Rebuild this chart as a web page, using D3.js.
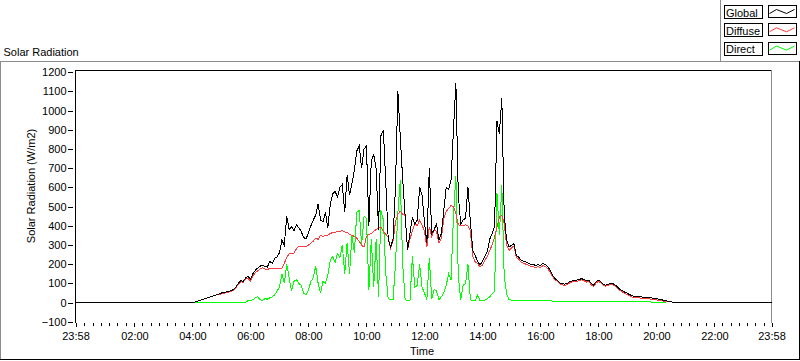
<!DOCTYPE html>
<html><head><meta charset="utf-8">
<script src="https://cdn.jsdelivr.net/npm/d3@7"></script>
<style>
body{margin:0;background:#fff;}
svg{display:block;font-family:"Liberation Sans",Arial,sans-serif;font-size:11px;}
</style>
</head><body>
<svg id="chart" width="800" height="361"></svg>
<script>
// ---------- data ----------
const chartTitle = "Solar Radiation";
const yAxisTitle = "Solar Radiation (W/m2)";
const xAxisTitle = "Time";
const seriesNames = ["Global", "Diffuse", "Direct"];
const seriesColors = ["#000000", "#ff3b3b", "#00ff00"];
const yTickValues = [1200, 1100, 1000, 900, 800, 700, 600, 500, 400, 300, 200, 100, 0, -100];
const xTickLabels = ["23:58", "02:00", "04:00", "06:00", "08:00", "10:00", "12:00", "14:00", "16:00", "18:00", "20:00", "22:00", "23:58"];
const dayStart = "04:00";      // first sample of the daytime record
const stepMinutes = 5;          // sample spacing

const globalRad = [0,3,6,11,16,20,24,28,32,36,40,45,50,52,55,58,62,68,82,100,
115,110,128,137,122,150,168,180,190,195,188,185,215,205,230,238,260,325,300,450,
380,395,375,405,390,370,340,330,365,400,430,455,515,430,420,470,390,510,565,580,
550,600,615,470,665,560,620,690,790,815,700,800,815,400,740,770,700,380,870,900,
620,330,290,330,600,1100,860,640,450,275,360,445,410,430,600,560,420,310,700,360,
380,410,325,360,480,600,590,640,900,1143,560,410,430,440,600,420,272,245,215,195,
215,240,265,330,358,395,945,880,1066,462,324,289,298,306,246,237,220,215,211,206,
199,198,194,198,194,203,199,189,168,142,125,117,103,99,96,99,108,113,117,117,
120,125,120,113,117,99,91,108,117,108,96,91,96,99,99,91,79,68,61,54,
48,41,35,32,30,30,29,28,27,25,24,22,20,18,15,12,9,6,4,2,
0,0,0,0,0];

const diffuseRad = [0,3,6,11,16,20,24,28,32,36,40,42,46,48,51,54,58,64,78,96,
110,106,123,127,112,140,155,165,175,182,175,172,178,175,178,178,180,178,205,235,
255,255,258,280,292,290,290,292,300,310,320,335,330,350,345,350,350,360,365,365,
370,370,375,368,365,355,350,345,335,320,298,289,345,355,360,372,380,388,393,370,
355,341,282,320,420,462,475,460,455,275,330,375,412,400,430,405,370,289,395,345,
380,370,310,335,436,475,490,505,500,462,405,400,400,405,400,372,240,212,203,186,
196,220,240,272,300,340,392,445,455,410,300,272,285,295,236,226,210,205,200,195,
188,187,183,187,183,192,188,178,158,136,119,111,97,93,90,93,102,107,111,111,
114,119,114,107,111,93,85,102,111,102,90,85,90,93,93,85,73,62,55,48,
42,35,29,26,24,24,23,22,21,19,18,16,14,12,10,8,7,5,3];

const directRad = [-2,-2,-2,-2,-2,-2,-2,-2,-2,-2,-2,3,3,3,3,3,3,3,3,3,
3,3,3,10,12,15,25,30,15,12,20,18,25,30,40,60,80,150,100,200,
130,60,110,120,100,90,50,40,65,110,130,190,100,50,110,100,140,220,240,210,
255,235,300,150,310,150,350,260,470,480,300,450,440,65,330,80,330,30,480,430,
150,20,15,15,200,470,640,200,15,10,10,240,80,90,200,80,50,15,230,20,
70,60,15,30,50,90,150,120,450,660,140,15,90,100,200,15,10,10,40,10,
10,12,20,30,45,60,570,350,610,140,45,16,13,13,13,13,13,13,13,13,
13,13,13,13,13,13,13,13,13,6,6,6,6,6,6,6,6,6,6,6,
6,6,6,6,6,6,6,6,5,5,5,5,5,5,5,5,5,5,5,5,
5,4,4,4,4,4,4,4,4,4,3,3,3,3,3,3,3];

// ---------- helpers ----------
const parseHM = s => { const [h, m] = s.split(":").map(Number); return h * 60 + m; };
const day0 = new Date(2024, 0, 1, 0, 0);
const atMin = m => new Date(day0.getTime() + m * 60000);
const xStart = atMin(parseHM(xTickLabels[0]) - 1440);          // 23:58 of previous day
const xEnd = atMin(parseHM(xTickLabels[xTickLabels.length - 1]));
const majorDates = xTickLabels.map((s, i) => i === 0 ? xStart : (i === xTickLabels.length - 1 ? xEnd : atMin(parseHM(s))));
const t0 = parseHM(dayStart);
const toPoints = arr => arr.map((v, i) => ({ t: atMin(t0 + i * stepMinutes), v }));

// ---------- layout ----------
const svg = d3.select("#chart");
const x = d3.scaleTime().domain([xStart, xEnd]).range([75.5, 771.5]);
const y = d3.scaleLinear().domain([-100, 1200]).range([321.8, 72.2]);
const plotTop = 70, plotBottom = 323;

// outer frame
svg.append("line").attr("x1", 0).attr("x2", 800).attr("y1", 61.5).attr("y2", 61.5).attr("stroke", "#8c8c8c");
svg.append("line").attr("x1", 0.5).attr("x2", 0.5).attr("y1", 61).attr("y2", 360).attr("stroke", "#8c8c8c");
svg.append("line").attr("x1", 0).attr("x2", 800).attr("y1", 359.5).attr("y2", 359.5).attr("stroke", "#000");
svg.append("line").attr("x1", 799.5).attr("x2", 799.5).attr("y1", 61).attr("y2", 360).attr("stroke", "#000");
svg.append("line").attr("x1", 720.5).attr("x2", 720.5).attr("y1", 0).attr("y2", 62).attr("stroke", "#8c8c8c");

// title
svg.append("text").attr("x", 3.5).attr("y", 56).text(chartTitle);

// plot area frame
svg.append("rect").attr("x", 75).attr("y", plotTop).attr("width", 697).attr("height", plotBottom - plotTop).attr("fill", "#fff");
svg.append("line").attr("x1", 75).attr("x2", 772).attr("y1", plotTop + 0.5).attr("y2", plotTop + 0.5).attr("stroke", "#000").attr("shape-rendering", "crispEdges");
svg.append("line").attr("x1", 771.5).attr("x2", 771.5).attr("y1", plotTop).attr("y2", plotBottom).attr("stroke", "#8c8c8c").attr("shape-rendering", "crispEdges");

// series (direct, diffuse underneath global)
const line = d3.line().x(d => x(d.t)).y(d => y(d.v));
const clip = svg.append("clipPath").attr("id", "clipP").append("rect").attr("x", 75).attr("y", plotTop).attr("width", 697).attr("height", plotBottom - plotTop);
const gPlot = svg.append("g").attr("clip-path", "url(#clipP)");
const globalPts = [{ t: xStart, v: 0 }].concat(toPoints(globalRad), [{ t: xEnd, v: 0 }]);
const seriesData = [globalPts, toPoints(diffuseRad), toPoints(directRad)];
[2, 1, 0].forEach(k => {
  gPlot.append("path").datum(seriesData[k]).attr("d", line)
    .attr("fill", "none").attr("stroke", seriesColors[k]).attr("stroke-width", 1)
    .attr("shape-rendering", "crispEdges");
});

// y axis
const yAxis = d3.axisLeft(y).tickValues(yTickValues).tickSize(5).tickPadding(1.5).tickFormat(d3.format("d"));
const gy = svg.append("g").attr("transform", "translate(73,0)").call(yAxis);
gy.select(".domain").remove();
gy.selectAll(".tick line").attr("stroke", "#000").attr("shape-rendering", "crispEdges");
gy.selectAll(".tick text").attr("fill", "#000").style("font-family", "'Liberation Sans',Arial,sans-serif").style("font-size", "11px");
svg.append("line").attr("x1", 75.5).attr("x2", 75.5).attr("y1", plotTop).attr("y2", plotBottom).attr("stroke", "#000").attr("shape-rendering", "crispEdges");

// x axis minor ticks (7 divisions per 2h major interval)
const minorDates = d3.range(0, 1441, 120 / 7).map(m => atMin(m)).filter(d => d >= xStart && d <= atMin(1440));
const gxm = svg.append("g").attr("transform", `translate(0,${plotBottom})`)
  .call(d3.axisBottom(x).tickValues(minorDates).tickSize(3).tickFormat(""));
gxm.select(".domain").remove();
gxm.selectAll(".tick line").attr("stroke", "#000").attr("shape-rendering", "crispEdges");
gxm.selectAll(".tick").attr("transform", d => `translate(${Math.min(x(d), 773.5)},0)`);

// x axis major ticks + labels
const fmt = d3.timeFormat("%H:%M");
const gx = svg.append("g").attr("transform", `translate(0,${plotBottom})`)
  .call(d3.axisBottom(x).tickValues(majorDates).tickSize(4).tickPadding(5).tickFormat(fmt));
gx.select(".domain").remove();
gx.selectAll(".tick line").attr("stroke", "#000").attr("shape-rendering", "crispEdges");
gx.selectAll(".tick text").attr("fill", "#000").style("font-family", "'Liberation Sans',Arial,sans-serif").style("font-size", "11px");

// axis titles
svg.append("text").attr("x", 422).attr("y", 355).attr("text-anchor", "middle").text(xAxisTitle);
svg.append("text").attr("transform", "translate(35,186) rotate(-90)").attr("text-anchor", "middle").text(yAxisTitle);

// legend
const lg = svg.append("g");
seriesNames.forEach((name, i) => {
  const top = 5 + i * 18.3;
  const g = lg.append("g").attr("transform", `translate(0,${top})`);
  g.append("rect").attr("x", 724.5).attr("y", 0.5).attr("width", 38).attr("height", 13).attr("fill", "#fff").attr("stroke", "#000").attr("shape-rendering", "crispEdges");
  g.append("text").attr("x", 726).attr("y", 11.5).text(name);
  g.append("rect").attr("x", 768.5).attr("y", 0.5).attr("width", 28).attr("height", 12).attr("fill", "#fff").attr("stroke", "#000").attr("shape-rendering", "crispEdges");
  const zz = [[1, 8], [8, 4], [18, 8], [26, 4]];
  g.append("path").attr("d", d3.line()(zz.map(p => [768.5 + p[0], 0.5 + p[1]])))
    .attr("fill", "none").attr("stroke", seriesColors[i]).attr("stroke-width", 1);
});
</script>
</body></html>
